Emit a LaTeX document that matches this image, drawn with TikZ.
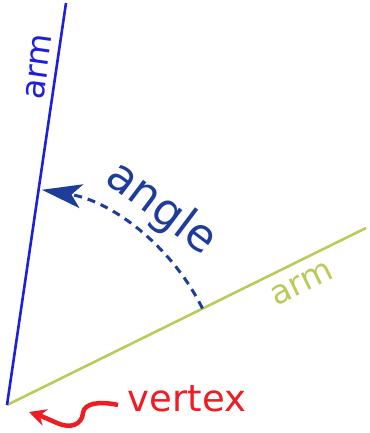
\documentclass[tikz,border=0pt]{standalone}
\usepackage{fontspec}
\setmainfont{DejaVu Sans}
\usetikzlibrary{arrows.meta}
\definecolor{armblue}{HTML}{1E1EDC}
\definecolor{armgreen}{HTML}{B8CC5A}
\definecolor{anglenavy}{HTML}{1E3C9A}
\definecolor{vred}{HTML}{EE1C24}
\tikzset{
  armline/.style={line width=2.6pt},
  lbl/.style={inner sep=0pt, font=\fontsize{33}{33}\selectfont},
}
\begin{document}
\begin{tikzpicture}[x=1pt,y=1pt]
\useasboundingbox (0,0) rectangle (369,433);
\coordinate (V) at (7,28);
\coordinate (B) at (66,430);
\coordinate (G) at (366,205);
\draw[armline, armgreen] (V) -- (G);
\draw[armline, armblue] (V) -- (B);
% dashed angle arc
\draw[anglenavy, line width=3pt, dash pattern=on 8pt off 6pt,
      -{Stealth[length=40pt,width=24pt,inset=10pt]}]
  ([shift={(26.3:218)}]V) arc[start angle=26.3, end angle=80.8, radius=218];
\node[lbl, anglenavy, rotate=-37, font=\fontsize{45}{45}\selectfont] (ang) at (161,224) {angle};
\node[lbl, armblue, rotate=82] (arm1) at (39,366) {arm};
\node[lbl, armgreen, rotate=26] (arm2) at (302,149) {arm};
\node[lbl, vred, font=\fontsize{37}{37}\selectfont] (vtx) at (187,34) {vertex};
\coordinate (vs) at (118,28);
\coordinate (vt) at (29,21);
\draw[vred, line width=4.5pt, -{Stealth[length=17pt,width=17pt]}]
  (vs) .. controls (100,32) and (84,30) .. (83,20)
       .. controls (82,8) and (70,4) .. (57,10)
       .. controls (50,13) and (44,16) .. (vt);
\end{tikzpicture}
\end{document}
